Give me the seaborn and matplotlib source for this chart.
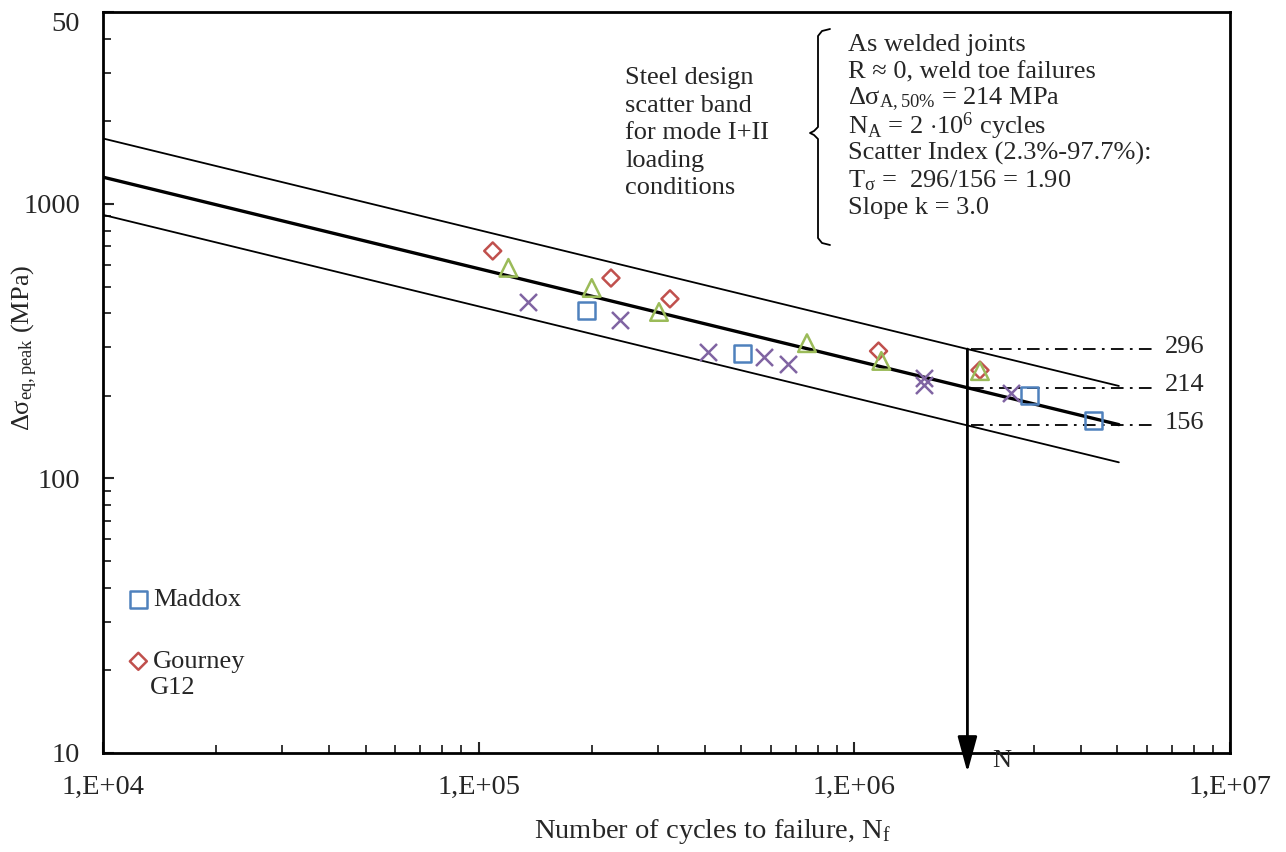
import numpy as np
import pandas as pd
import matplotlib
matplotlib.use("Agg")
import matplotlib.pyplot as plt
import matplotlib.transforms as mtransforms
from matplotlib.lines import Line2D
import seaborn as sns

# ---- fatigue test data: cycles to failure / peak equivalent stress range (MPa)
maddox_n = [1.94e5, 5.05e5, 2.93e6, 4.32e6]
maddox_s = [408, 286, 201, 162]

gourney_n = [1.09e5, 2.25e5, 3.23e5, 1.16e6, 2.16e6]
gourney_s = [674, 537, 451, 291, 248]

tri_n = [1.20e5, 2.00e5, 3.02e5, 7.48e5, 1.18e6, 2.16e6]
tri_s = [585, 494, 404, 311, 268, 246]

cross_n = [1.35e5, 2.38e5, 4.07e5, 5.75e5, 6.66e5, 1.53e6, 1.53e6, 2.61e6]
cross_s = [440, 378, 289, 277, 261, 232, 219, 205]

# ---- design scatter band (2.3 %, 50 %, 97.7 % survival)
N_A = 2e6
band_levels = [296, 214, 156]
band_widths = [1.3, 2.4, 1.3]
slope_k = 3.0
band_n_range = [1e4, 5.06e6]

x_ticks = [1e4, 1e5, 1e6, 1e7]
x_ticklabels = ["1,E+04", "1,E+05", "1,E+06", "1,E+07"]
y_ticks = [10, 100, 1000, 5000]
y_ticklabels = ["10", "100", "1000", "50"]

FS_TICK = 20.5
FS_TEXT = 19
FS_XLAB = 20.5

sns.set_theme(style="ticks")
plt.rcParams["font.family"] = ["Liberation Serif", "DejaVu Serif"]
plt.rcParams["mathtext.fontset"] = "custom"
plt.rcParams["mathtext.rm"] = "Liberation Serif"
plt.rcParams["mathtext.it"] = "Liberation Serif:italic"
plt.rcParams["mathtext.bf"] = "Liberation Serif:bold"
plt.rcParams["font.size"] = FS_TEXT

W, H = 1286, 852
AX_L, AX_R, AX_T, AX_B = 103, 1230, 12, 753
fig = plt.figure(figsize=(W / 100, H / 100), dpi=100)
ax = fig.add_axes([AX_L / W, 1 - AX_B / H, (AX_R - AX_L) / W, (AX_B - AX_T) / H])
ax.set_xscale("log")
ax.set_yscale("log")
ax.set_xlim(1e4, 1e7)
ax.set_ylim(10, 5000)


def axfrac(px, py):
    """Pixel position in the figure -> axes fraction."""
    return (px - AX_L) / (AX_R - AX_L), (AX_B - py) / (AX_B - AX_T)


# ---- scatter band lines
n_line = np.geomspace(band_n_range[0], band_n_range[1], 50)
for lvl, lw in zip(band_levels, band_widths):
    s_line = lvl * (N_A / n_line) ** (1.0 / slope_k)
    sns.lineplot(x=n_line, y=s_line, color="black", lw=lw, ax=ax, legend=False)

# ---- test data
series = [
    ("Maddox", maddox_n, maddox_s, "s", "#4F81BD", True),
    ("Gourney", gourney_n, gourney_s, "D", "#C0504D", True),
    ("_tri", tri_n, tri_s, "^", "#9BBB59", True),
    ("_cross", cross_n, cross_s, "x", "#8064A2", False),
]
sizes = {"s": 150, "D": 75, "^": 160, "x": 150}
for name, xs, ys, mk, col, filled in series:
    df = pd.DataFrame({"N": xs, "S": ys})
    if filled:
        sns.scatterplot(data=df, x="N", y="S", marker=mk, s=sizes[mk], color=col,
                        facecolor="none", edgecolor=col, linewidth=1.8, ax=ax,
                        label=name, zorder=3)
    else:
        sns.scatterplot(data=df, x="N", y="S", marker=mk, s=sizes[mk], color=col,
                        linewidth=1.8, ax=ax, label=name, zorder=3)

# ---- reference levels at N_A
ax.annotate("", xy=(N_A, 8.5), xytext=(N_A, band_levels[0]),
            arrowprops=dict(arrowstyle="-|>,head_length=1.1,head_width=0.3",
                            color="black", lw=2, mutation_scale=20,
                            shrinkA=0, shrinkB=0),
            annotation_clip=False)
for lvl in band_levels:
    ax.plot([2.05e6, 6.3e6], [lvl, lvl], color="black", lw=1.3,
            dashes=(7, 3.5, 1.5, 3.5))
    ax.text(6.7e6, lvl * 1.02, f"{lvl}", ha="left", va="center", fontsize=FS_TEXT)
ax.text(2.47e6, 9.35, "N", ha="center", va="center", fontsize=FS_TEXT, clip_on=False)

# ---- axes formatting
ax.set_xticks(x_ticks)
ax.set_xticklabels(x_ticklabels)
ax.set_yticks(y_ticks)
ax.set_yticklabels(y_ticklabels)
ax.tick_params(axis="both", which="major", direction="in", length=8, width=1.5,
               labelsize=FS_TICK, top=False, right=False)
ax.tick_params(axis="both", which="minor", direction="in", length=6, width=1.3,
               top=False, right=False)
ax.tick_params(axis="y", which="both", pad=16.5)
ax.tick_params(axis="x", which="both", pad=16)
ax.yaxis.set_minor_formatter(matplotlib.ticker.NullFormatter())
ax.xaxis.set_minor_formatter(matplotlib.ticker.NullFormatter())
for sp in ax.spines.values():
    sp.set_linewidth(2)
    sp.set_color("black")
    sp.set_visible(True)

# the top stress label sits a little below its tick
ylabs = ax.get_yticklabels()
ylabs[-1].set_transform(ylabs[-1].get_transform() +
                        mtransforms.ScaledTranslation(0, -0.09, fig.dpi_scale_trans))

ax.set_xlabel(r"Number of cycles to failure, N$_{\mathrm{f}}$", fontsize=FS_XLAB)
ax.set_ylabel(r"$\Delta\mathrm{\sigma}_{\mathrm{eq,peak}}$ (MPa)", fontsize=FS_TEXT)
ax.xaxis.set_label_coords(axfrac(712, 0)[0], -0.086)
ax.yaxis.set_label_coords(axfrac(40, 0)[0], axfrac(0, 348)[1])

# ---- legend
handles, labels = ax.get_legend_handles_labels()
keep = [(h, l) for h, l in zip(handles, labels) if not l.startswith("_")]
ax.legend([k[0] for k in keep], [k[1] for k in keep], loc="upper left",
          bbox_to_anchor=(0.022, 0.223), frameon=False, fontsize=FS_TEXT,
          handlelength=0.8, handletextpad=0.15, labelspacing=1.46,
          borderpad=0, borderaxespad=0)
ax.text(*axfrac(150, 688), "G12", transform=ax.transAxes,
        ha="left", va="center", fontsize=FS_TEXT)

# ---- annotations
band_lines = ["Steel design", "scatter band", "for mode I+II", "loading", "conditions"]
for i, line in enumerate(band_lines):
    ax.text(*axfrac(625, 78 + i * 27.5), line, transform=ax.transAxes,
            ha="left", va="center", fontsize=FS_TEXT)

info_lines = [
    "As welded joints",
    "R \u2248 0, weld toe failures",
    r"$\Delta\mathrm{\sigma}_{\mathrm{A,50\%}}$ = 214 MPa",
    r"N$_{\mathrm{A}}$ = 2 $\cdot$10$^{6}$ cycles",
    "Scatter Index (2.3%-97.7%):",
    r"T$_{\mathrm{\sigma}}$ =  296/156 = 1.90",
    "Slope k = 3.0",
]
for i, line in enumerate(info_lines):
    ax.text(*axfrac(848, 45 + i * 27.2), line, transform=ax.transAxes,
            ha="left", va="center", fontsize=FS_TEXT)

# curly bracket
bx = np.array([830, 822, 818, 818, 814, 810, 814, 818, 818, 822, 830])
by = np.array([29, 31, 36, 127, 131, 133, 135, 139, 238, 243, 245])
fx, fy = axfrac(bx, by)
ax.add_line(Line2D(fx, fy, transform=ax.transAxes, color="black", lw=1.3,
                   clip_on=False))

fig.savefig("out.png", dpi=100)
